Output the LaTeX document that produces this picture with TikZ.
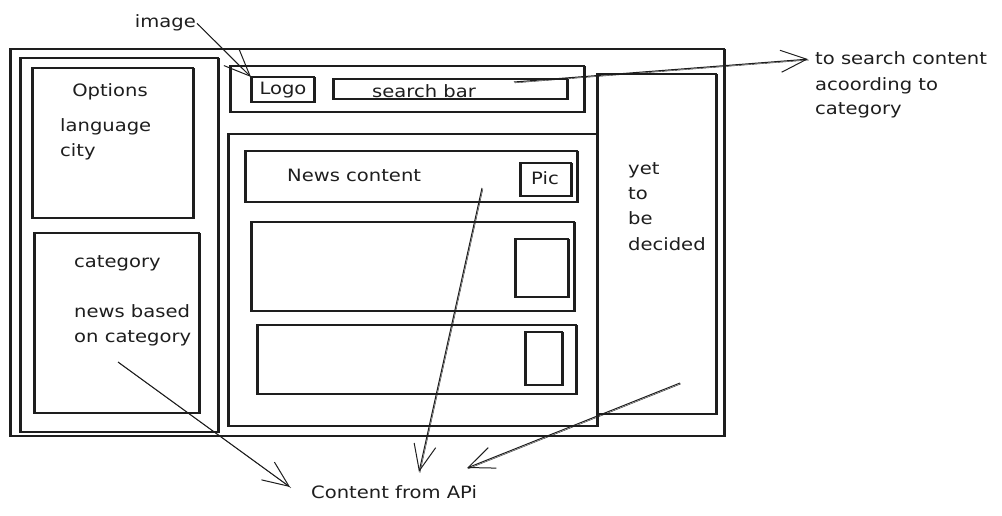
\documentclass[tikz,border=0pt]{standalone}
\usepackage{fontspec}
\setmainfont[FakeStretch=1.15]{DejaVu Sans}
\usetikzlibrary{arrows.meta}
\definecolor{ink}{HTML}{1E1E1E}
\begin{document}
\begin{tikzpicture}[x=1pt,y=-1pt,
  box/.style={draw=ink, line width=1.1pt, inner sep=0pt, outer sep=0pt,
    anchor=north west,
    postaction={draw=ink, line width=0.5pt,
      transform canvas={shift={(0.8pt,-0.7pt)}}}},
  lbl/.style={text=ink, inner sep=1pt, font=\fontsize{17}{20}\selectfont},
  arr/.style={draw=ink, line width=1pt,
    -{Straight Barb[length=26pt,width=22pt,line width=1pt]},
    postaction={draw=ink, line width=0.4pt, -,
      transform canvas={shift={(0.9pt,-0.9pt)}}}}]

\useasboundingbox[fill=white] (0,0) rectangle (1002,516);

% page frame and columns
\node[box, minimum width=714pt, minimum height=387pt] (frame) at (10,49) {};
\node[box, minimum width=198pt, minimum height=374pt] (leftcol) at (20,58) {};
\node[box, minimum width=161pt, minimum height=150pt] (options) at (32,68) {};
\node[box, minimum width=165pt, minimum height=180pt] (catbox) at (34,233) {};

% header with logo and search bar
\node[box, minimum width=354pt, minimum height=46pt] (header) at (230,66) {};
\node[box, minimum width=63pt, minimum height=25pt] (logo) at (251,77) {};
\node[box, minimum width=234pt, minimum height=20pt] (search) at (333,79) {};

% main news area and side panel
\node[box, minimum width=369pt, minimum height=292pt] (main) at (228,134) {};
\node[box, minimum width=119pt, minimum height=340pt] (side) at (597,74) {};

% news cards with pictures
\node[box, minimum width=332pt, minimum height=51pt] (card1) at (245,151) {};
\node[box, minimum width=51pt, minimum height=33pt] (pic1) at (520,163) {};
\node[box, minimum width=323pt, minimum height=89pt] (card2) at (251,222) {};
\node[box, minimum width=53pt, minimum height=58pt] (pic2) at (515,239) {};
\node[box, minimum width=319pt, minimum height=69pt] (card3) at (257,325) {};
\node[box, minimum width=37pt, minimum height=53pt] (pic3) at (525,332) {};

% texts
\node[lbl, anchor=base east] (image) at (197,28) {image};
\node[lbl, anchor=base] (optitle) at (110,97) {Options};
\node[lbl, anchor=base west] (lang) at (59,132) {language};
\node[lbl, anchor=base west] (city) at (59,157) {city};
\node[lbl, anchor=base] (logotxt) at (283,95) {Logo};
\node[lbl, anchor=base] (searchtxt) at (424,98) {search bar};
\node[lbl, anchor=base west] (newstxt) at (286,182) {News content};
\node[lbl, anchor=base] (pictxt) at (545,185) {Pic};
\node[lbl, anchor=base west] (yet) at (627,175) {yet};
\node[lbl, anchor=base west] (to) at (627,200) {to};
\node[lbl, anchor=base west] (be) at (627,224) {be};
\node[lbl, anchor=base west] (decided) at (627,250) {decided};
\node[lbl, anchor=base west] (note1) at (814,65) {to search content};
\node[lbl, anchor=base west] (note2) at (814,91) {acoording to};
\node[lbl, anchor=base west] (note3) at (814,115) {category};
\node[lbl, anchor=base west] (cattitle) at (73,267) {category};
\node[lbl, anchor=base west] (catl1) at (73,317) {news based};
\node[lbl, anchor=base west] (catl2) at (73,342) {on category};
\node[lbl, anchor=base west] (api) at (310,498) {Content from APi};

% connector ends
\coordinate (searchpt) at (514,82);
\coordinate (catpt) at (118,362);
\coordinate (newspt) at (482,188);
\coordinate (sidept) at (680,383);
\coordinate (apiL) at (290,487);
\coordinate (apiM) at (419,472);
\coordinate (apiR) at (467,468);

% connectors
\draw[arr] (image.east) -- (logo.north west);
\draw[arr, shorten >=6pt] (searchpt) -- (note1.west);
\draw[arr] (catpt) -- (apiL);
\draw[arr] (newspt) -- (apiM);
\draw[arr] (sidept) -- (apiR);
\end{tikzpicture}
\end{document}
